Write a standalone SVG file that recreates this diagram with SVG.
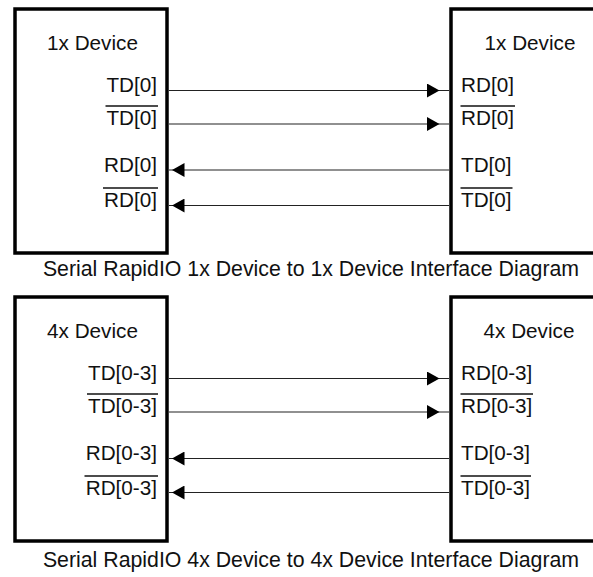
<svg xmlns="http://www.w3.org/2000/svg" width="593" height="577" viewBox="0 0 593 577">
<style>
.box{fill:#fff;stroke:#000;stroke-width:3.5}
.lbl{font-family:"Liberation Sans",Arial,sans-serif;font-size:20.7px;fill:#111}
.ttl{font-family:"Liberation Sans",Arial,sans-serif;font-size:20.7px;fill:#111;text-anchor:middle}
.cap{font-family:"Liberation Sans",Arial,sans-serif;font-size:21.3px;fill:#111;text-anchor:middle}
.r{text-anchor:end}
.ol{stroke:#111;stroke-width:1.3}
.wire{fill:none;stroke:#222;stroke-width:1.2;marker-mid:url(#ah)}
</style>
<defs>
<marker id="ah" viewBox="0 0 12.5 14" refX="12.5" refY="7" markerWidth="12.5" markerHeight="14" markerUnits="userSpaceOnUse" orient="auto">
<path d="M0,0 L12.5,7 L0,14 z" fill="#000"/>
</marker>
</defs>
<rect width="593" height="577" fill="#fff"/>

<g id="dev1-left">
<rect class="box" x="15" y="9" width="152" height="244"/>
<text class="ttl" x="92.5" y="50">1x Device</text>
<text class="lbl r" x="157" y="91.5">TD[0]</text>
<text class="lbl r" x="157" y="124.5">TD[0]</text>
<line class="ol" x1="105.5" y1="106" x2="158" y2="106"/>
<text class="lbl r" x="157" y="171.5">RD[0]</text>
<text class="lbl r" x="157" y="206.5">RD[0]</text>
<line class="ol" x1="103" y1="188" x2="158" y2="188"/>
</g>
<g id="dev1-right">
<rect class="box" x="451" y="9" width="160" height="244"/>
<text class="ttl" x="530" y="50">1x Device</text>
<text class="lbl" x="461" y="91.5">RD[0]</text>
<text class="lbl" x="461" y="124.5">RD[0]</text>
<line class="ol" x1="460.5" y1="106" x2="515" y2="106"/>
<text class="lbl" x="461" y="171.5">TD[0]</text>
<text class="lbl" x="461" y="206.5">TD[0]</text>
<line class="ol" x1="460.5" y1="188" x2="512.5" y2="188"/>
</g>
<g id="dev4-left">
<rect class="box" x="15" y="297" width="152" height="244"/>
<text class="ttl" x="92.5" y="338">4x Device</text>
<text class="lbl r" x="157" y="379.5">TD[0-3]</text>
<text class="lbl r" x="157" y="412.5">TD[0-3]</text>
<line class="ol" x1="87" y1="394" x2="158" y2="394"/>
<text class="lbl r" x="157" y="460">RD[0-3]</text>
<text class="lbl r" x="157" y="494.5">RD[0-3]</text>
<line class="ol" x1="84.5" y1="476" x2="158" y2="476"/>
</g>
<g id="dev4-right">
<rect class="box" x="451" y="297" width="160" height="244"/>
<text class="ttl" x="529" y="338">4x Device</text>
<text class="lbl" x="461" y="379.5">RD[0-3]</text>
<text class="lbl" x="461" y="412.5">RD[0-3]</text>
<line class="ol" x1="460.5" y1="394" x2="533" y2="394"/>
<text class="lbl" x="461" y="460">TD[0-3]</text>
<text class="lbl" x="461" y="494.5">TD[0-3]</text>
<line class="ol" x1="460.5" y1="476" x2="531" y2="476"/>
</g>

<g id="connectors">
<path class="wire" d="M169,90.5 H439.5 H449"/>
<path class="wire" d="M169,124 H439.5 H449"/>
<path class="wire" d="M449,170 H172 H169"/>
<path class="wire" d="M449,205.5 H172 H169"/>
<path class="wire" d="M169,378.5 H439.5 H449"/>
<path class="wire" d="M169,412 H439.5 H449"/>
<path class="wire" d="M449,458.5 H172 H169"/>
<path class="wire" d="M449,492.5 H172 H169"/>
</g>

<text class="cap" x="311" y="276">Serial RapidIO 1x Device to 1x Device Interface Diagram</text>
<text class="cap" x="311" y="567">Serial RapidIO 4x Device to 4x Device Interface Diagram</text>
</svg>
